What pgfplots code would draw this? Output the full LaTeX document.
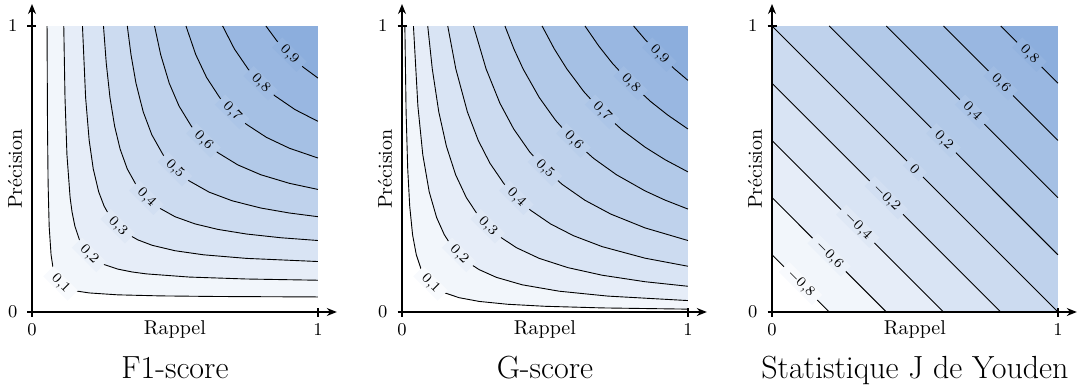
\documentclass[border=0pt]{standalone}
\usepackage{pgfplots}
\pgfplotsset{compat=1.18}
\usetikzlibrary{arrows.meta}
\definecolor{B}{RGB}{140,174,221}
\colorlet{b1}{B!11!white}\colorlet{b2}{B!22!white}\colorlet{b3}{B!33!white}
\colorlet{b4}{B!44!white}\colorlet{b5}{B!56!white}\colorlet{b6}{B!67!white}
\colorlet{b7}{B!78!white}\colorlet{b8}{B!89!white}\colorlet{b9}{B}
\colorlet{l1}{B!6!white}\colorlet{l2}{B!17!white}\colorlet{l3}{B!28!white}
\colorlet{l4}{B!39!white}\colorlet{l5}{B!50!white}\colorlet{l6}{B!61!white}
\colorlet{l7}{B!72!white}\colorlet{l8}{B!83!white}\colorlet{l9}{B!94!white}
\pgfplotsset{myax/.style={
 scale only axis, width=152.4pt, height=154pt,
 xmin=0, xmax=1.066, ymin=0, ymax=1.077,
 axis lines=left,
 axis line style={line width=0.6pt, -{Stealth[length=5pt,width=4pt]}},
 xtick={0,1}, ytick={0,1}, tick align=center, major tick length=4.5pt,
 tick style={line width=0.6pt, black},
 ticklabel style={font=\small},
 yticklabel style={xshift=-1.5pt},
 xlabel={Rappel}, ylabel={Précision},
 every axis x label/.style={at={(axis description cs:0.469,-0.0552)}, anchor=center},
 every axis y label/.style={at={(axis description cs:-0.0558,0.464)}, anchor=center, rotate=90},
 every axis title/.style={at={(axis description cs:0.469,-0.2143)}, anchor=base, font=\fontsize{16}{19}\selectfont},
 axis on top, clip=false},
 fl/.style={draw=none, mark=none, forget plot},
 cl/.style={black, line width=0.45pt, mark=none, forget plot}}
\tikzset{lbl/.style={font=\scriptsize, rotate=-45, inner xsep=3.5pt, inner ysep=0.6pt}}
\begin{document}
\begin{tikzpicture}
\useasboundingbox (-16pt,-37.5pt) rectangle (523pt,156pt);
% ---------------- F1-score ----------------
\begin{axis}[myax, at={(0,0)}, title={F1-score}]
\addplot[fl, fill=b1] coordinates {(0.0526,1) (0.0542,0.65) (0.0563,0.45) (0.06,0.3) (0.0667,0.2) (0.0727,0.16) (0.0813,0.13) (0.0917,0.11) (0.1,0.1) (0.11,0.0917) (0.13,0.0813) (0.16,0.0727) (0.2,0.0667) (0.3,0.06) (0.45,0.0563) (0.65,0.0542) (1,0.0526) (1,1)};
\addplot[fl, fill=b2] coordinates {(0.1111,1) (0.1154,0.75) (0.1222,0.55) (0.1333,0.4) (0.14,0.35) (0.15,0.3) (0.1667,0.25) (0.1833,0.22) (0.2,0.2) (0.22,0.1833) (0.25,0.1667) (0.3,0.15) (0.35,0.14) (0.4,0.1333) (0.55,0.1222) (0.75,0.1154) (1,0.1111) (1,1)};
\addplot[fl, fill=b3] coordinates {(0.1765,1) (0.1875,0.75) (0.2,0.6) (0.2143,0.5) (0.2333,0.42) (0.2523,0.37) (0.275,0.33) (0.3,0.3) (0.33,0.275) (0.37,0.2523) (0.42,0.2333) (0.5,0.2143) (0.6,0.2) (0.75,0.1875) (1,0.1765) (1,1)};
\addplot[fl, fill=b4] coordinates {(0.25,1) (0.2597,0.87) (0.2727,0.75) (0.2889,0.65) (0.3081,0.57) (0.3333,0.5) (0.3667,0.44) (0.4,0.4) (0.44,0.3667) (0.5,0.3333) (0.57,0.3081) (0.65,0.2889) (0.75,0.2727) (0.87,0.2597) (1,0.25) (1,1)};
\addplot[fl, fill=b5] coordinates {(0.3333,1) (0.3462,0.9) (0.3636,0.8) (0.3889,0.7) (0.4189,0.62) (0.4583,0.55) (0.5,0.5) (0.55,0.4583) (0.62,0.4189) (0.7,0.3889) (0.8,0.3636) (0.9,0.3462) (1,0.3333) (1,1)};
\addplot[fl, fill=b6] coordinates {(0.4286,1) (0.45,0.9) (0.48,0.8) (0.5143,0.72) (0.5571,0.65) (0.6,0.6) (0.65,0.5571) (0.72,0.5143) (0.8,0.48) (0.9,0.45) (1,0.4286) (1,1)};
\addplot[fl, fill=b7] coordinates {(0.5385,1) (0.5727,0.9) (0.6106,0.82) (0.6563,0.75) (0.7,0.7) (0.75,0.6563) (0.82,0.6106) (0.9,0.5727) (1,0.5385) (1,1)};
\addplot[fl, fill=b8] coordinates {(0.6667,1) (0.7077,0.92) (0.7556,0.85) (0.8,0.8) (0.85,0.7556) (0.92,0.7077) (1,0.6667) (1,1)};
\addplot[fl, fill=b9] coordinates {(0.8182,1) (0.855,0.95) (0.9,0.9) (0.95,0.855) (1,0.8182) (1,1)};
\addplot[cl] coordinates {(0.0526,1) (0.0542,0.65) (0.0563,0.45) (0.06,0.3) (0.0667,0.2) (0.0727,0.16) (0.0813,0.13) (0.0917,0.11) (0.1,0.1) (0.11,0.0917) (0.13,0.0813) (0.16,0.0727) (0.2,0.0667) (0.3,0.06) (0.45,0.0563) (0.65,0.0542) (1,0.0526)};
\addplot[cl] coordinates {(0.1111,1) (0.1154,0.75) (0.1222,0.55) (0.1333,0.4) (0.14,0.35) (0.15,0.3) (0.1667,0.25) (0.1833,0.22) (0.2,0.2) (0.22,0.1833) (0.25,0.1667) (0.3,0.15) (0.35,0.14) (0.4,0.1333) (0.55,0.1222) (0.75,0.1154) (1,0.1111)};
\addplot[cl] coordinates {(0.1765,1) (0.1875,0.75) (0.2,0.6) (0.2143,0.5) (0.2333,0.42) (0.2523,0.37) (0.275,0.33) (0.3,0.3) (0.33,0.275) (0.37,0.2523) (0.42,0.2333) (0.5,0.2143) (0.6,0.2) (0.75,0.1875) (1,0.1765)};
\addplot[cl] coordinates {(0.25,1) (0.2597,0.87) (0.2727,0.75) (0.2889,0.65) (0.3081,0.57) (0.3333,0.5) (0.3667,0.44) (0.4,0.4) (0.44,0.3667) (0.5,0.3333) (0.57,0.3081) (0.65,0.2889) (0.75,0.2727) (0.87,0.2597) (1,0.25)};
\addplot[cl] coordinates {(0.3333,1) (0.3462,0.9) (0.3636,0.8) (0.3889,0.7) (0.4189,0.62) (0.4583,0.55) (0.5,0.5) (0.55,0.4583) (0.62,0.4189) (0.7,0.3889) (0.8,0.3636) (0.9,0.3462) (1,0.3333)};
\addplot[cl] coordinates {(0.4286,1) (0.45,0.9) (0.48,0.8) (0.5143,0.72) (0.5571,0.65) (0.6,0.6) (0.65,0.5571) (0.72,0.5143) (0.8,0.48) (0.9,0.45) (1,0.4286)};
\addplot[cl] coordinates {(0.5385,1) (0.5727,0.9) (0.6106,0.82) (0.6563,0.75) (0.7,0.7) (0.75,0.6563) (0.82,0.6106) (0.9,0.5727) (1,0.5385)};
\addplot[cl] coordinates {(0.6667,1) (0.7077,0.92) (0.7556,0.85) (0.8,0.8) (0.85,0.7556) (0.92,0.7077) (1,0.6667)};
\addplot[cl] coordinates {(0.8182,1) (0.855,0.95) (0.9,0.9) (0.95,0.855) (1,0.8182)};
\node[lbl, fill=l1] at (axis cs:0.1,0.1) {0,1};
\node[lbl, fill=l2] at (axis cs:0.2,0.2) {0,2};
\node[lbl, fill=l3] at (axis cs:0.3,0.3) {0,3};
\node[lbl, fill=l4] at (axis cs:0.4,0.4) {0,4};
\node[lbl, fill=l5] at (axis cs:0.5,0.5) {0,5};
\node[lbl, fill=l6] at (axis cs:0.6,0.6) {0,6};
\node[lbl, fill=l7] at (axis cs:0.7,0.7) {0,7};
\node[lbl, fill=l8] at (axis cs:0.8,0.8) {0,8};
\node[lbl, fill=l9] at (axis cs:0.9,0.9) {0,9};
\end{axis}
% ---------------- G-score ----------------
\begin{axis}[myax, at={(185pt,0)}, title={G-score}]
\addplot[fl, fill=b1] coordinates {(0.01,1) (0.0143,0.7) (0.02,0.5) (0.027,0.37) (0.037,0.27) (0.05,0.2) (0.0667,0.15) (0.0833,0.12) (0.1,0.1) (0.12,0.0833) (0.15,0.0667) (0.2,0.05) (0.27,0.037) (0.37,0.027) (0.5,0.02) (0.7,0.0143) (1,0.01) (1,1)};
\addplot[fl, fill=b2] coordinates {(0.04,1) (0.0556,0.72) (0.0727,0.55) (0.0952,0.42) (0.1212,0.33) (0.1481,0.27) (0.1739,0.23) (0.2,0.2) (0.23,0.1739) (0.27,0.1481) (0.33,0.1212) (0.42,0.0952) (0.55,0.0727) (0.72,0.0556) (1,0.04) (1,1)};
\addplot[fl, fill=b3] coordinates {(0.09,1) (0.1059,0.85) (0.1286,0.7) (0.1552,0.58) (0.1875,0.48) (0.225,0.4) (0.2647,0.34) (0.3,0.3) (0.34,0.2647) (0.4,0.225) (0.48,0.1875) (0.58,0.1552) (0.7,0.1286) (0.85,0.1059) (1,0.09) (1,1)};
\addplot[fl, fill=b4] coordinates {(0.16,1) (0.1882,0.85) (0.2286,0.7) (0.2667,0.6) (0.3077,0.52) (0.3556,0.45) (0.4,0.4) (0.45,0.3556) (0.52,0.3077) (0.6,0.2667) (0.7,0.2286) (0.85,0.1882) (1,0.16) (1,1)};
\addplot[fl, fill=b5] coordinates {(0.25,1) (0.2941,0.85) (0.3425,0.73) (0.3906,0.64) (0.4464,0.56) (0.5,0.5) (0.56,0.4464) (0.64,0.3906) (0.73,0.3425) (0.85,0.2941) (1,0.25) (1,1)};
\addplot[fl, fill=b6] coordinates {(0.36,1) (0.3913,0.92) (0.4235,0.85) (0.48,0.75) (0.5373,0.67) (0.6,0.6) (0.67,0.5373) (0.75,0.48) (0.85,0.4235) (0.92,0.3913) (1,0.36) (1,1)};
\addplot[fl, fill=b7] coordinates {(0.49,1) (0.5326,0.92) (0.5765,0.85) (0.6364,0.77) (0.7,0.7) (0.77,0.6364) (0.85,0.5765) (0.92,0.5326) (1,0.49) (1,1)};
\addplot[fl, fill=b8] coordinates {(0.64,1) (0.6882,0.93) (0.7356,0.87) (0.8,0.8) (0.87,0.7356) (0.93,0.6882) (1,0.64) (1,1)};
\addplot[fl, fill=b9] coordinates {(0.81,1) (0.8526,0.95) (0.9,0.9) (0.95,0.8526) (1,0.81) (1,1)};
\addplot[cl] coordinates {(0.01,1) (0.0143,0.7) (0.02,0.5) (0.027,0.37) (0.037,0.27) (0.05,0.2) (0.0667,0.15) (0.0833,0.12) (0.1,0.1) (0.12,0.0833) (0.15,0.0667) (0.2,0.05) (0.27,0.037) (0.37,0.027) (0.5,0.02) (0.7,0.0143) (1,0.01)};
\addplot[cl] coordinates {(0.04,1) (0.0556,0.72) (0.0727,0.55) (0.0952,0.42) (0.1212,0.33) (0.1481,0.27) (0.1739,0.23) (0.2,0.2) (0.23,0.1739) (0.27,0.1481) (0.33,0.1212) (0.42,0.0952) (0.55,0.0727) (0.72,0.0556) (1,0.04)};
\addplot[cl] coordinates {(0.09,1) (0.1059,0.85) (0.1286,0.7) (0.1552,0.58) (0.1875,0.48) (0.225,0.4) (0.2647,0.34) (0.3,0.3) (0.34,0.2647) (0.4,0.225) (0.48,0.1875) (0.58,0.1552) (0.7,0.1286) (0.85,0.1059) (1,0.09)};
\addplot[cl] coordinates {(0.16,1) (0.1882,0.85) (0.2286,0.7) (0.2667,0.6) (0.3077,0.52) (0.3556,0.45) (0.4,0.4) (0.45,0.3556) (0.52,0.3077) (0.6,0.2667) (0.7,0.2286) (0.85,0.1882) (1,0.16)};
\addplot[cl] coordinates {(0.25,1) (0.2941,0.85) (0.3425,0.73) (0.3906,0.64) (0.4464,0.56) (0.5,0.5) (0.56,0.4464) (0.64,0.3906) (0.73,0.3425) (0.85,0.2941) (1,0.25)};
\addplot[cl] coordinates {(0.36,1) (0.3913,0.92) (0.4235,0.85) (0.48,0.75) (0.5373,0.67) (0.6,0.6) (0.67,0.5373) (0.75,0.48) (0.85,0.4235) (0.92,0.3913) (1,0.36)};
\addplot[cl] coordinates {(0.49,1) (0.5326,0.92) (0.5765,0.85) (0.6364,0.77) (0.7,0.7) (0.77,0.6364) (0.85,0.5765) (0.92,0.5326) (1,0.49)};
\addplot[cl] coordinates {(0.64,1) (0.6882,0.93) (0.7356,0.87) (0.8,0.8) (0.87,0.7356) (0.93,0.6882) (1,0.64)};
\addplot[cl] coordinates {(0.81,1) (0.8526,0.95) (0.9,0.9) (0.95,0.8526) (1,0.81)};
\node[lbl, fill=l1] at (axis cs:0.1,0.1) {0,1};
\node[lbl, fill=l2] at (axis cs:0.2,0.2) {0,2};
\node[lbl, fill=l3] at (axis cs:0.3,0.3) {0,3};
\node[lbl, fill=l4] at (axis cs:0.4,0.4) {0,4};
\node[lbl, fill=l5] at (axis cs:0.5,0.5) {0,5};
\node[lbl, fill=l6] at (axis cs:0.6,0.6) {0,6};
\node[lbl, fill=l7] at (axis cs:0.7,0.7) {0,7};
\node[lbl, fill=l8] at (axis cs:0.8,0.8) {0,8};
\node[lbl, fill=l9] at (axis cs:0.9,0.9) {0,9};
\end{axis}
% ---------------- Youden ----------------
\begin{axis}[myax, at={(370pt,0)}, title={Statistique J de Youden}]
\addplot[fl, fill=b1] coordinates {(0,0.2) (0.2,0) (1,0) (1,1) (0,1)};
\addplot[fl, fill=b2] coordinates {(0,0.4) (0.4,0) (1,0) (1,1) (0,1)};
\addplot[fl, fill=b3] coordinates {(0,0.6) (0.6,0) (1,0) (1,1) (0,1)};
\addplot[fl, fill=b4] coordinates {(0,0.8) (0.8,0) (1,0) (1,1) (0,1)};
\addplot[fl, fill=b5] coordinates {(0,1) (1,0) (1,1)};
\addplot[fl, fill=b6] coordinates {(0.2,1) (1,0.2) (1,1)};
\addplot[fl, fill=b7] coordinates {(0.4,1) (1,0.4) (1,1)};
\addplot[fl, fill=b8] coordinates {(0.6,1) (1,0.6) (1,1)};
\addplot[fl, fill=b9] coordinates {(0.8,1) (1,0.8) (1,1)};
\addplot[cl] coordinates {(0,0.2) (0.2,0)};
\addplot[cl] coordinates {(0,0.4) (0.4,0)};
\addplot[cl] coordinates {(0,0.6) (0.6,0)};
\addplot[cl] coordinates {(0,0.8) (0.8,0)};
\addplot[cl] coordinates {(0,1) (1,0)};
\addplot[cl] coordinates {(0.2,1) (1,0.2)};
\addplot[cl] coordinates {(0.4,1) (1,0.4)};
\addplot[cl] coordinates {(0.6,1) (1,0.6)};
\addplot[cl] coordinates {(0.8,1) (1,0.8)};
\node[lbl, fill=l1] at (axis cs:0.1,0.1) {$-$0,8};
\node[lbl, fill=l2] at (axis cs:0.2,0.2) {$-$0,6};
\node[lbl, fill=l3] at (axis cs:0.3,0.3) {$-$0,4};
\node[lbl, fill=l4] at (axis cs:0.4,0.4) {$-$0,2};
\node[lbl, fill=l5] at (axis cs:0.5,0.5) {0};
\node[lbl, fill=l6] at (axis cs:0.6,0.6) {0,2};
\node[lbl, fill=l7] at (axis cs:0.7,0.7) {0,4};
\node[lbl, fill=l8] at (axis cs:0.8,0.8) {0,6};
\node[lbl, fill=l9] at (axis cs:0.9,0.9) {0,8};
\end{axis}
\end{tikzpicture}
\end{document}
